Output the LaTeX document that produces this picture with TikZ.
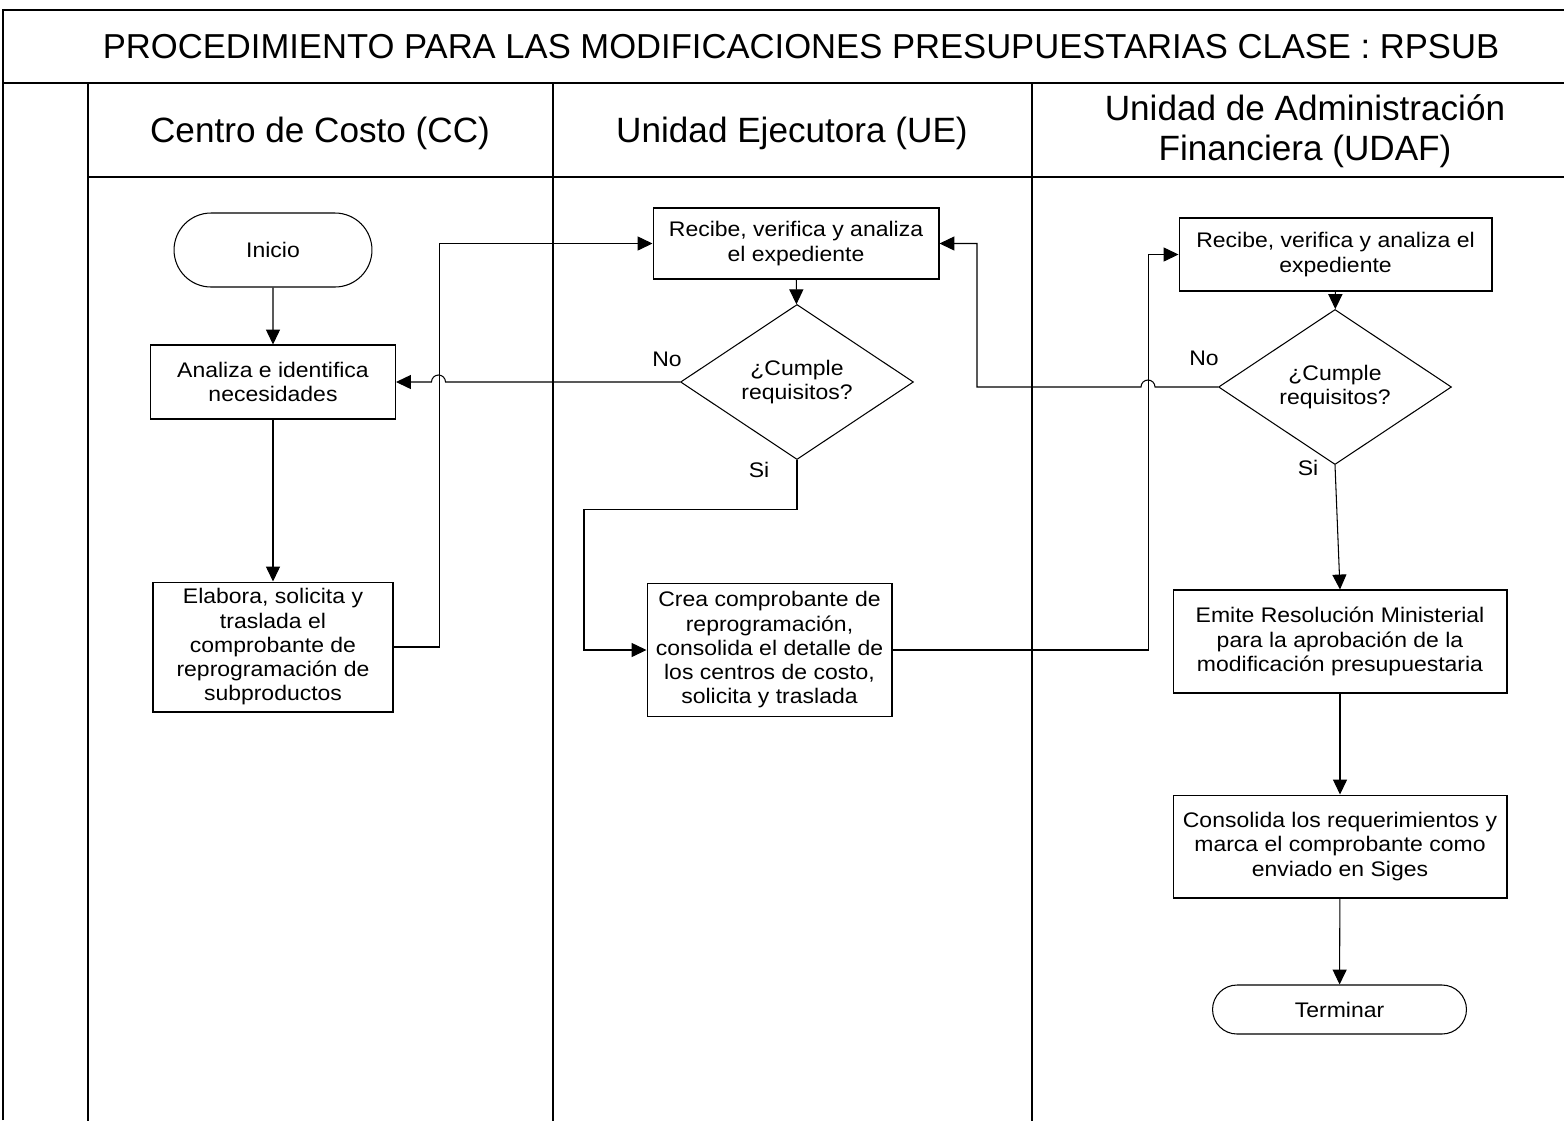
\documentclass[tikz,border=0pt]{standalone}
\usepackage{fontspec}
\setmainfont{Liberation Sans}
\newfontfamily\boxfont[FakeStretch=1.09]{Liberation Sans}
\usetikzlibrary{arrows.meta,shapes.geometric,shapes.misc}

\begin{document}
\begin{tikzpicture}[x=0.02cm,y=-0.02cm,
  box/.style={draw,line width=0.6pt,align=center,inner sep=2pt,
    font=\boxfont\fontsize{12}{13.8}\selectfont},
  proc/.style={box,rectangle},
  term/.style={box,rounded rectangle},
  decide/.style={box,diamond,inner sep=0pt},
  flow/.style={line width=0.6pt,-{Triangle[length=8.5pt,width=8pt]}},
  lane/.style={line width=0.9pt},
  lbl/.style={font=\boxfont\fontsize{12}{13.8}\selectfont},
  head/.style={align=center,font=\fontsize{20}{22.7}\selectfont}]
\useasboundingbox (0,0) rectangle (1564,1120);

\draw[lane] (3,1120) -- (3,10) -- (1566,10);
\draw[lane] (3,83) -- (1566,83);
\draw[lane] (88,83) -- (88,1122);
\draw[lane] (88,177) -- (1566,177);
\draw[lane] (553,83) -- (553,1122);
\draw[lane] (1032,83) -- (1032,1122);

\node[font=\fontsize{19.7}{22}\selectfont] (title) at (801,47)
  {PROCEDIMIENTO PARA LAS MODIFICACIONES PRESUPUESTARIAS CLASE : RPSUB};
\node[head] (cc) at (320,133) {Centro de Costo (CC)};
\node[head] (ue) at (792,133) {Unidad Ejecutora (UE)};
\node[head] (udaf) at (1305,131) {Unidad de Administración\\Financiera (UDAF)};

\node[term,minimum width=4.1cm,minimum height=1.48cm] (inicio) at (273,250) {Inicio};
\node[proc,minimum width=4.9cm,minimum height=1.48cm] (analiza) at (273,382)
  {Analiza e identifica\\necesidades};
\node[proc,minimum width=4.8cm,minimum height=2.6cm] (elabora) at (273,647)
  {Elabora, solicita y\\traslada el\\comprobante de\\reprogramación de\\subproductos};

\node[proc,minimum width=5.72cm,minimum height=1.42cm] (recibeUE) at (796,243.5)
  {Recibe, verifica y analiza\\el expediente};
\node[decide,minimum width=4.66cm,minimum height=2.94cm] (cumpleUE) at (797,382)
  {¿Cumple\\requisitos?};
\node[proc,minimum width=4.9cm,minimum height=2.66cm] (crea) at (769.5,650)
  {Crea comprobante de\\reprogramación,\\consolida el detalle de\\los centros de costo,\\solicita y traslada};

\node[proc,minimum width=6.26cm,minimum height=1.46cm] (recibeUDAF) at (1335.5,254.5)
  {Recibe, verifica y analiza el\\expediente};
\node[decide,minimum width=4.66cm,minimum height=2.9cm] (cumpleUDAF) at (1335,387)
  {¿Cumple\\requisitos?};
\node[proc,minimum width=6.68cm,minimum height=2.06cm] (emite) at (1340,641.5)
  {Emite Resolución Ministerial\\para la aprobación de la\\modificación presupuestaria};
\node[proc,minimum width=6.68cm,minimum height=2.06cm] (consolida) at (1340,846.5)
  {Consolida los requerimientos y\\marca el comprobante como\\enviado en Siges};
\node[term,minimum width=5.22cm,minimum height=0.98cm] (terminar) at (1339.5,1009.5) {Terminar};

\node[lbl] (noUE) at (667,359) {No};
\node[lbl] (siUE) at (759,470) {Si};
\node[lbl] (noUDAF) at (1204,358) {No};
\node[lbl] (siUDAF) at (1308,468) {Si};

\draw[flow] (inicio) -- (analiza);
\draw[flow] (analiza) -- (elabora);
\draw[flow] (elabora.east) -- ++(46,0) |- (recibeUE.west);
\draw[flow] (recibeUE) -- (cumpleUE);
\draw[flow] (cumpleUE.west) -- ++(-234.5,0) arc[start angle=0,end angle=-180,radius=7]
  -- (analiza.east);
\draw[flow] (cumpleUE.south) -- ++(0,49) -- ++(-213,0) |- (crea.west);
\draw[flow] (crea.east) -- ++(256,0) |- (recibeUDAF.west);
\draw[flow] (recibeUDAF) -- (cumpleUDAF);
\draw[flow] (cumpleUDAF.west) -- ++(-63,0) arc[start angle=0,end angle=-180,radius=7]
  -- ++(-164,0) |- (recibeUE.east);
\draw[flow] (cumpleUDAF.south) -- (emite.north);
\draw[flow] (emite) -- (consolida);
\draw[flow] (consolida) -- (terminar);
\end{tikzpicture}
\end{document}
